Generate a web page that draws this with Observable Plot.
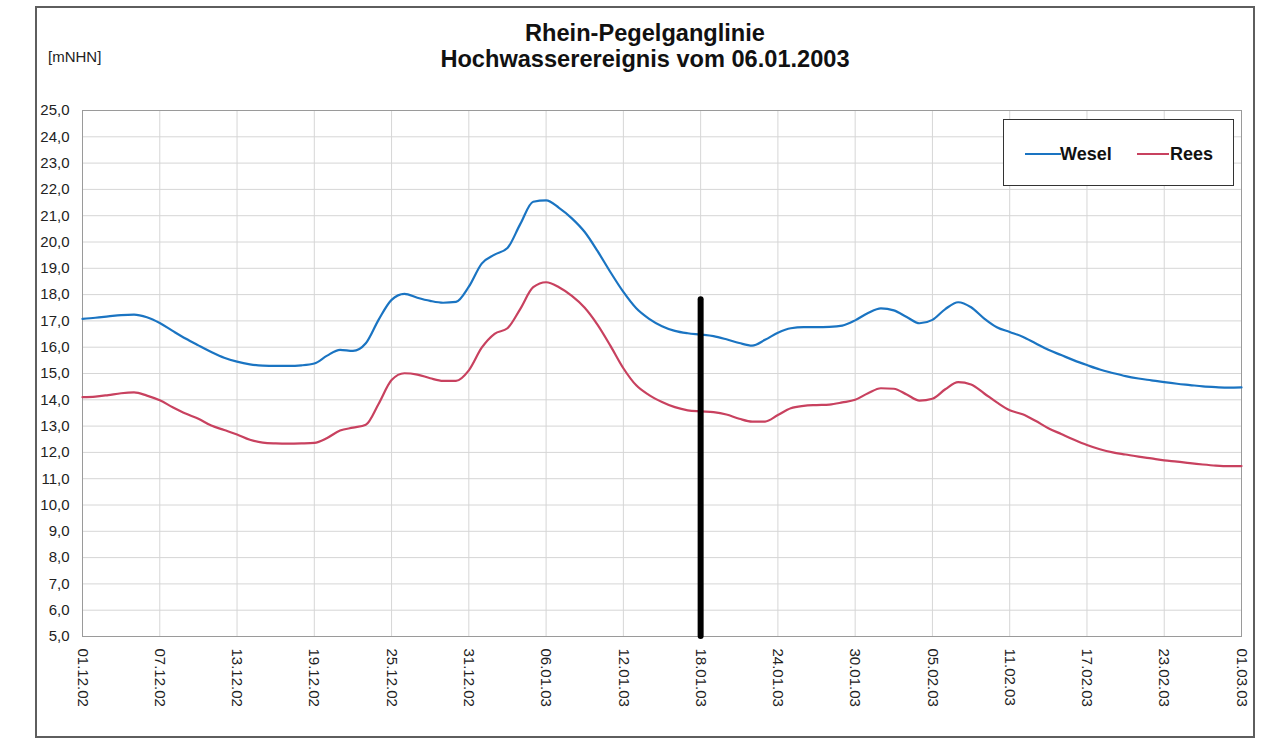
<!DOCTYPE html>
<html><head><meta charset="utf-8">
<script src="https://cdn.jsdelivr.net/npm/d3@7"></script>
<script src="https://cdn.jsdelivr.net/npm/@observablehq/plot@0.6"></script>
<style>
body{margin:0;background:#fff;font-family:"Liberation Sans",Arial,sans-serif;}
#wrap{position:relative;width:1273px;height:739px;overflow:hidden;}
#border{position:absolute;left:35px;top:6px;width:1220px;height:732px;box-sizing:border-box;border:2px solid #5e5e5e;}
#title{position:absolute;left:345px;width:600px;top:20px;text-align:center;font-weight:bold;font-size:23.6px;line-height:26px;color:#111;}
#unit{position:absolute;left:48px;top:49px;font-size:15px;line-height:15px;color:#222;}
#chart{position:absolute;left:0;top:0;}
#legend{position:absolute;left:1003px;top:119px;width:231px;height:67px;box-sizing:border-box;border:1.5px solid #333;background:#fff;}
.lline{position:absolute;height:2px;top:33px;}
.ltext{position:absolute;top:25px;font-size:18px;line-height:18px;font-weight:bold;color:#111;}
</style></head>
<body>
<div id="wrap">
  <div id="border"></div>
  <div id="chart"></div>
  <div id="title">Rhein-Pegelganglinie<br>Hochwasserereignis vom 06.01.2003</div>
  <div id="unit">[mNHN]</div>
  <div id="legend"></div>
</div>
<script>
// ---- data (daily values, 01.12.2002 .. 01.03.2003) ----
const seriesNames = ["Wesel", "Rees"];
const seriesColors = ["#1a74c2", "#c8415f"];
const wesel = [
  17.08,17.12,17.17,17.22,17.24,17.14,16.92,16.62,16.33,16.07,
  15.82,15.60,15.45,15.35,15.30,15.29,15.29,15.31,15.38,15.68,
  15.90,15.86,16.15,17.05,17.80,18.03,17.88,17.76,17.69,17.72,
  18.30,19.18,19.52,19.77,20.69,21.53,21.58,21.30,20.90,20.38,
  19.65,18.85,18.10,17.48,17.08,16.80,16.62,16.53,16.48,16.42,
  16.30,16.16,16.06,16.28,16.55,16.72,16.76,16.76,16.77,16.82,
  17.02,17.30,17.48,17.40,17.15,16.91,17.04,17.45,17.71,17.52,
  17.10,16.76,16.58,16.40,16.15,15.90,15.70,15.50,15.32,15.15,
  15.02,14.90,14.81,14.74,14.67,14.61,14.56,14.51,14.48,14.46,
  14.47
];
const rees = [
  14.10,14.12,14.18,14.25,14.28,14.16,13.98,13.72,13.48,13.28,
  13.02,12.85,12.68,12.48,12.37,12.34,12.33,12.34,12.36,12.55,
  12.83,12.94,13.05,13.85,14.75,15.01,14.96,14.82,14.72,14.72,
  15.12,15.98,16.51,16.72,17.46,18.28,18.47,18.28,17.95,17.50,
  16.85,16.05,15.20,14.55,14.18,13.92,13.72,13.60,13.56,13.53,
  13.44,13.28,13.17,13.17,13.42,13.68,13.77,13.80,13.82,13.90,
  14.00,14.25,14.44,14.42,14.20,13.97,14.04,14.40,14.67,14.58,
  14.25,13.90,13.60,13.45,13.20,12.92,12.70,12.48,12.28,12.12,
  12.00,11.92,11.84,11.77,11.70,11.65,11.59,11.54,11.50,11.48,
  11.48
];
const startDate = "01.12.02";
const xTickLabels = ["01.12.02","07.12.02","13.12.02","19.12.02","25.12.02","31.12.02","06.01.03",
  "12.01.03","18.01.03","24.01.03","30.01.03","05.02.03","11.02.03","17.02.03","23.02.03","01.03.03"];
const yTicks = [5,6,7,8,9,10,11,12,13,14,15,16,17,18,19,20,21,22,23,24,25];
const markerDate = "18.01.03";
const markerTop = 17.8;

// ---- build ----
const parse = d3.utcParse("%d.%m.%y");
const fmt = d3.utcFormat("%d.%m.%y");
const t0 = parse(startDate);
const table = [];
wesel.forEach((v, i) => table.push({date: d3.utcDay.offset(t0, i), value: v, series: "Wesel"}));
rees.forEach((v, i) => table.push({date: d3.utcDay.offset(t0, i), value: v, series: "Rees"}));
const xTicks = xTickLabels.map(parse);
const font = "'Liberation Sans', Arial, sans-serif";

const chart = Plot.plot({
  width: 1273, height: 739,
  marginLeft: 82, marginRight: 32, marginTop: 110, marginBottom: 103,
  style: {fontFamily: font, fontSize: "15px", color: "#222", background: "transparent"},
  x: {type: "utc", domain: [xTicks[0], xTicks[xTicks.length - 1]]},
  y: {domain: [5, 25]},
  color: {domain: seriesNames, range: seriesColors},
  marks: [
    Plot.gridY(yTicks, {stroke: "#d6d6d6", strokeOpacity: 1}),
    Plot.gridX(xTicks, {stroke: "#d6d6d6", strokeOpacity: 1}),
    Plot.frame({stroke: "#9a9a9a"}),
    Plot.axisY(yTicks, {tickSize: 0, tickPadding: 13, label: null, fontSize: 15,
      tickFormat: d => d.toFixed(1).replace(".", ",")}),
    Plot.axisX(xTicks, {tickSize: 0, tickPadding: 12, tickRotate: 90, label: null, fontSize: 15,
      tickFormat: d => fmt(d)}),
    Plot.line(table, {x: "date", y: "value", z: "series", stroke: "series", strokeWidth: 2.2, curve: "monotone-x"}),
    Plot.ruleX([parse(markerDate)], {y1: 5, y2: markerTop, stroke: "#000", strokeWidth: 6, strokeLinecap: "round"})
  ]
});
document.getElementById("chart").appendChild(chart);

// legend
const lg = document.getElementById("legend");
const legendPos = [{line: 21, w: 36, text: 56}, {line: 133, w: 32, text: 166}];
seriesNames.forEach((name, i) => {
  const l = document.createElement("div");
  l.className = "lline";
  l.style.left = legendPos[i].line + "px";
  l.style.width = legendPos[i].w + "px";
  l.style.background = seriesColors[i];
  lg.appendChild(l);
  const t = document.createElement("div");
  t.className = "ltext";
  t.style.left = legendPos[i].text + "px";
  t.textContent = name;
  lg.appendChild(t);
});
</script>
</body></html>
